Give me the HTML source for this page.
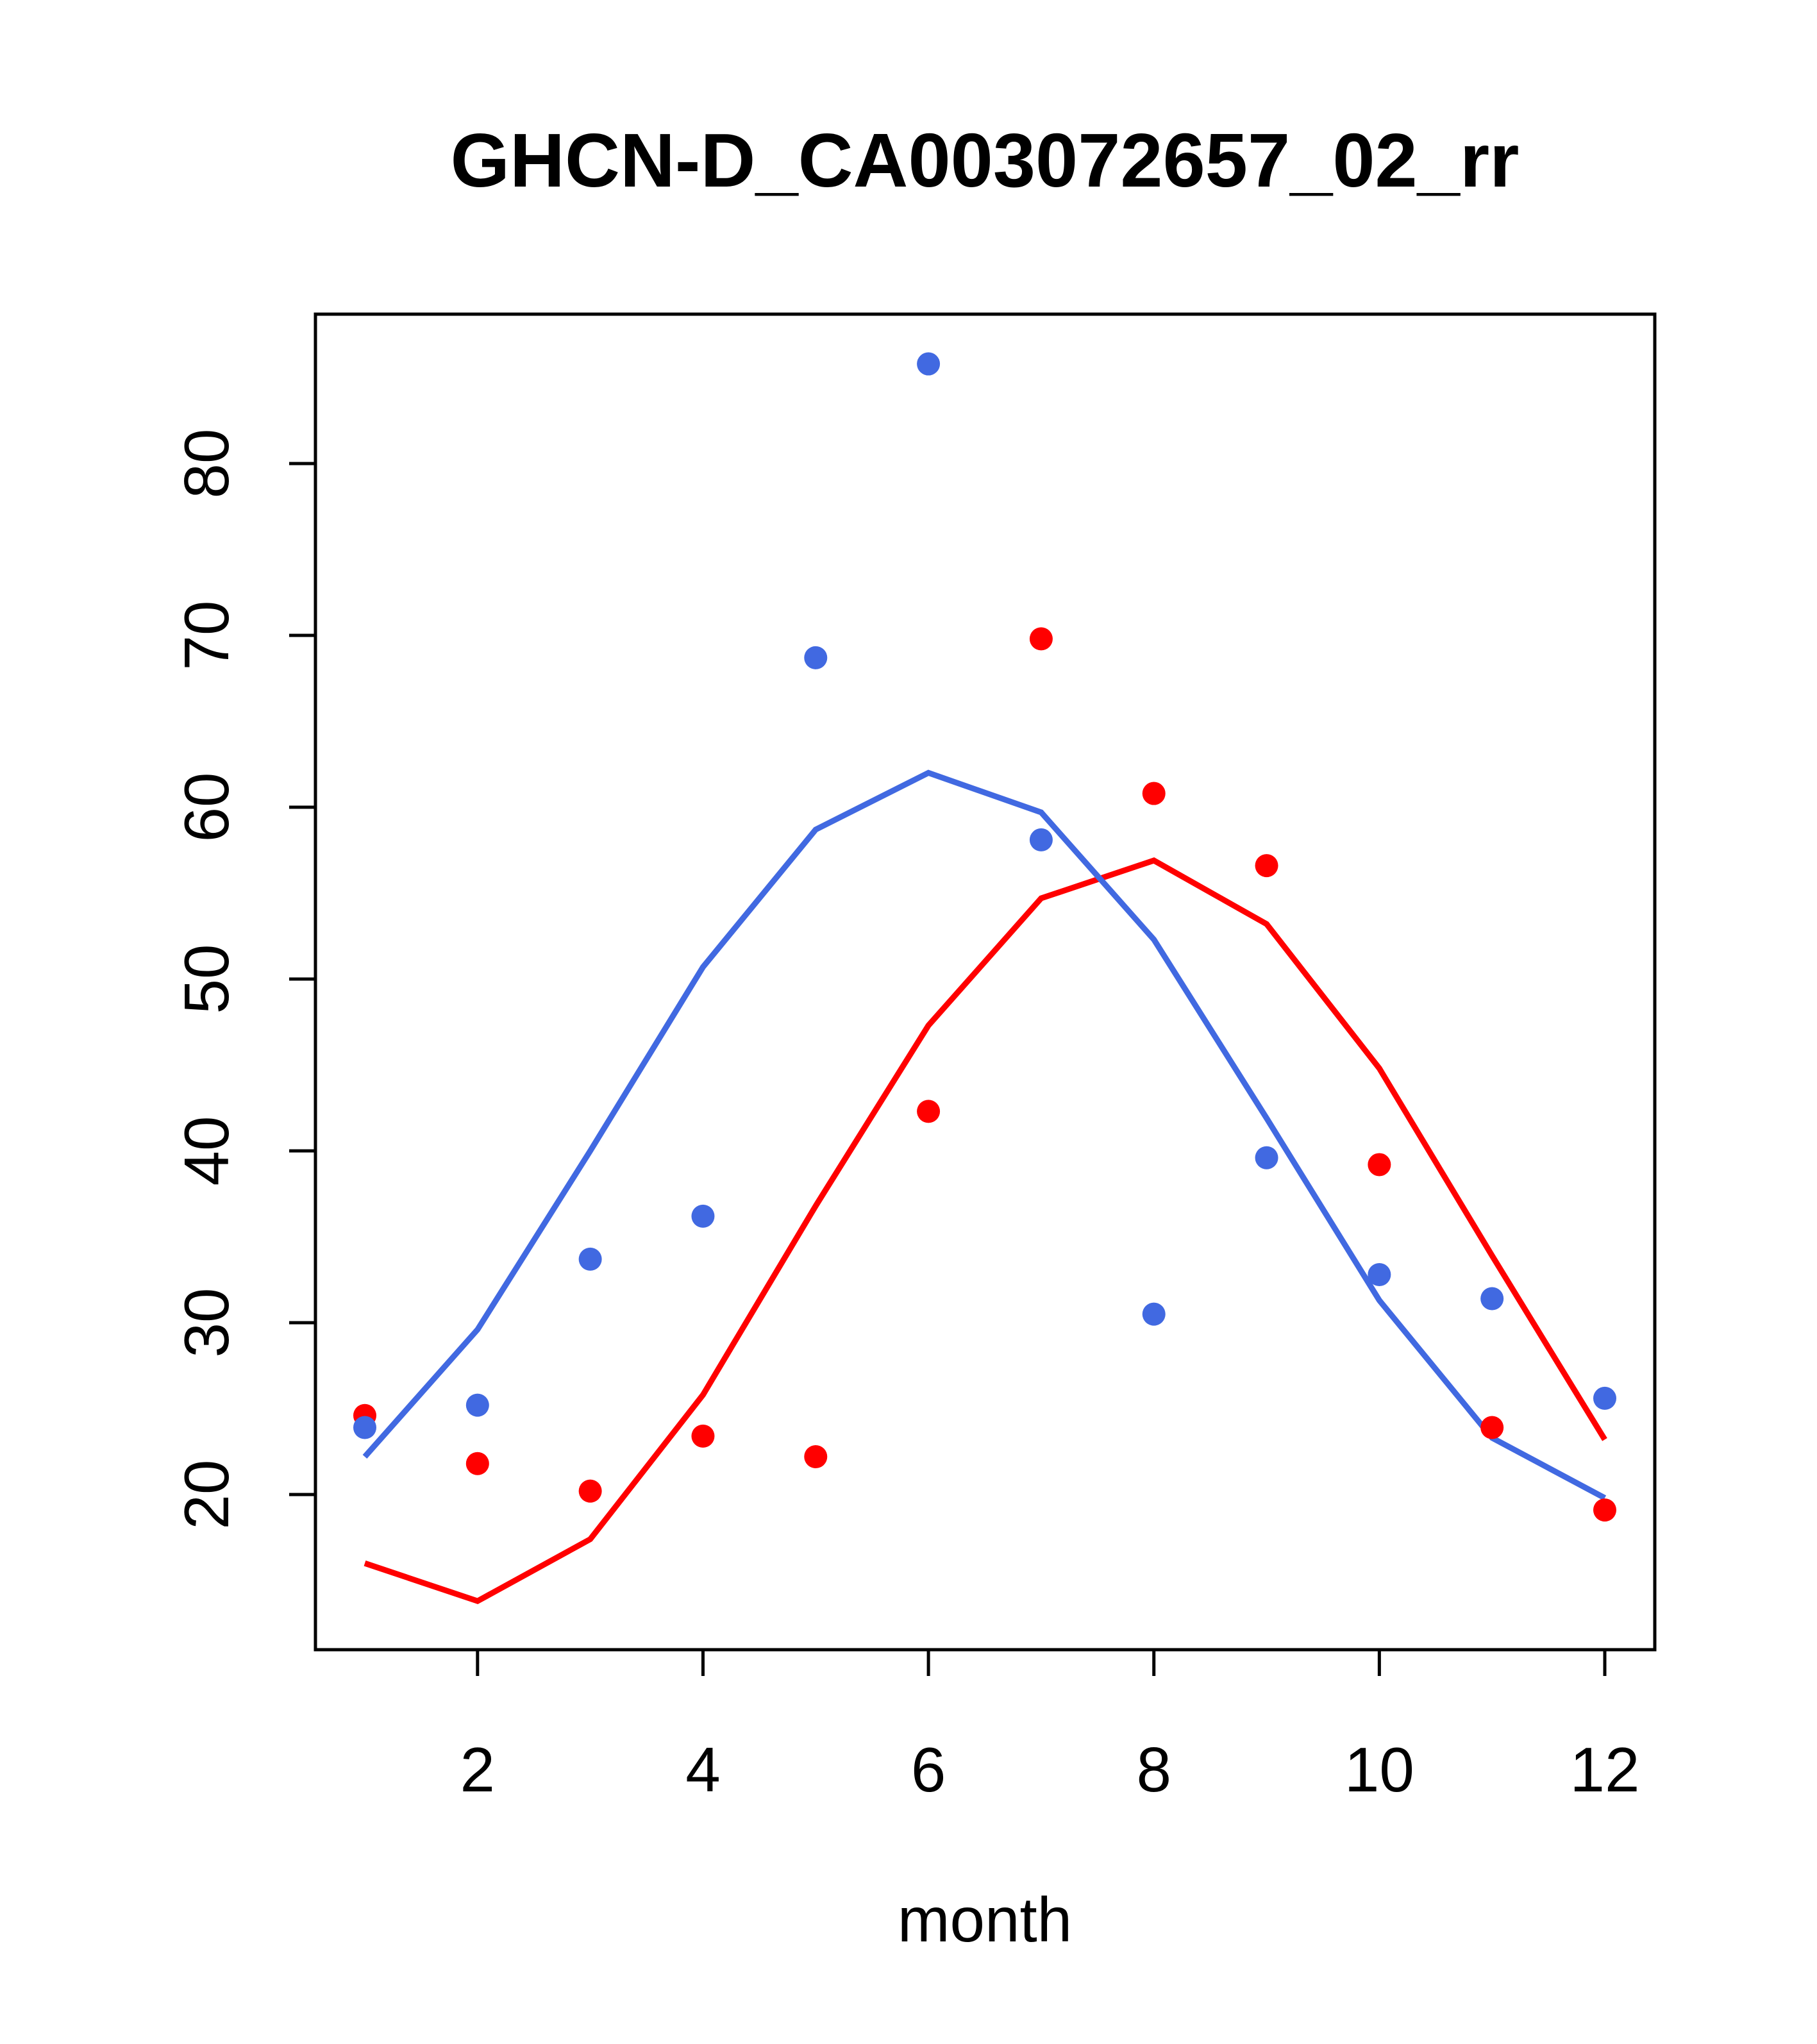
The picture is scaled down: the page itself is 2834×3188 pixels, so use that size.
<!DOCTYPE html>
<html><head><meta charset="utf-8"><style>
html,body{margin:0;padding:0;background:#fff;}
svg{display:block;font-family:"Liberation Sans",Arial,sans-serif;}
</style></head><body>
<svg id="chart" width="2834" height="3188" viewBox="0 0 2834 3188" xmlns="http://www.w3.org/2000/svg">
<rect width="2834" height="3188" fill="#fff"/>
<text x="1536" y="291" font-size="119" font-weight="bold" text-anchor="middle">GHCN-D_CA003072657_02_rr</text>
<rect x="492" y="490" width="2089" height="2083" fill="none" stroke="#000" stroke-width="5"/>
<text x="1536" y="3028" font-size="98" text-anchor="middle">month</text>
<g id="axes"></g><g id="lines"></g><g id="points"></g>
</svg>
<script>
const months=[1,2,3,4,5,6,7,8,9,10,11,12];
const bluePoints=[23.9,25.2,33.7,36.2,68.7,85.8,58.1,30.5,39.6,32.8,31.4,25.6];
const redPoints=[24.6,21.8,20.2,23.4,22.2,42.3,69.8,60.8,56.6,39.2,23.9,19.1];
const blueLine=[22.2,29.6,40.0,50.7,58.7,62.0,59.7,52.3,41.9,31.3,23.3,19.8];
const redLine=[16.0,13.8,17.4,25.8,36.8,47.3,54.7,56.9,53.2,44.8,33.9,23.2];
const xTicks=[2,4,6,8,10,12];
const yTicks=[20,30,40,50,60,70,80];

const NS="http://www.w3.org/2000/svg";
function X(m){return 569+(m-1)*(2503-569)/11;}
function Y(v){return 2331-(v-20)*(2331-723)/60;}
function mk(tag,attrs,parent){const e=document.createElementNS(NS,tag);for(const k in attrs)e.setAttribute(k,attrs[k]);parent.appendChild(e);return e;}
const axes=document.getElementById('axes');
mk('line',{x1:X(2),x2:X(12),y1:2573,y2:2573,stroke:'#000','stroke-width':5},axes);
xTicks.forEach(t=>{
  const l=mk('line',{x1:X(t),x2:X(t),y1:2573,y2:2614,stroke:'#000','stroke-width':5},axes);
  
  
  const tx=mk('text',{x:X(t),y:2794,'font-size':98,'text-anchor':'middle'},axes);
  tx.textContent=t;
  
  
});
mk('line',{x1:492,x2:492,y1:Y(20),y2:Y(80),stroke:'#000','stroke-width':5},axes);
yTicks.forEach(t=>{
  const l=mk('line',{x1:451,x2:492,y1:Y(t),y2:Y(t),stroke:'#000','stroke-width':5},axes);
  
  
  const tx=mk('text',{x:0,y:0,'font-size':98,'text-anchor':'middle',transform:`translate(356,${Y(t)}) rotate(-90)`},axes);
  tx.textContent=t;
  
  
});
const lines=document.getElementById('lines');
function drawLine(vals,color,name){
  const p=mk('polyline',{points:months.map((m,i)=>X(m)+','+Y(vals[i])).join(' '),fill:'none',stroke:color,'stroke-width':9},lines);
  
  
}
drawLine(redLine,'#ff0000','red-line');
drawLine(blueLine,'#4169e1','blue-line');
const pts=document.getElementById('points');
function drawPts(vals,color,name){
  months.forEach((m,i)=>{
    const c=mk('circle',{cx:X(m),cy:Y(vals[i]),r:18,fill:color},pts);
    
    
  });
}
drawPts(redPoints,'#ff0000','red-point');
drawPts(bluePoints,'#4169e1','blue-point');
</script>
</body></html>
